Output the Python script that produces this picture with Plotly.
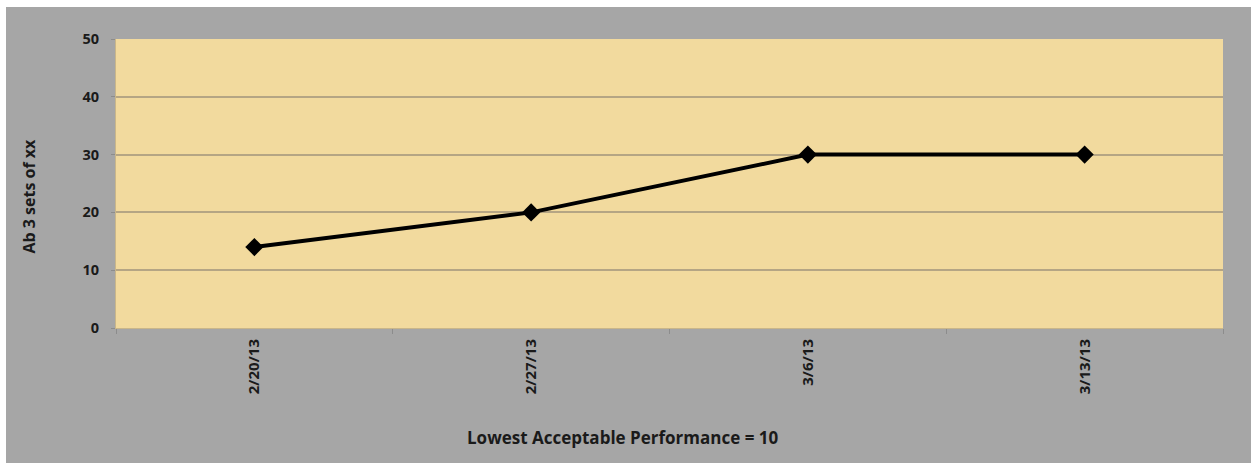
import plotly.graph_objects as go

dates = ["2/20/13", "2/27/13", "3/6/13", "3/13/13"]
values = [14, 20, 30, 30]
y_ticks = [0, 10, 20, 30, 40, 50]
x_title = "Lowest Acceptable Performance = 10"
y_title = "Ab 3 sets of xx"

W, H = 1251, 463
L, R, T, B = 116, 28, 39, 135
pw, ph = W - L - R, H - T - B

FONT = "Open Sans"
GREY = "#A6A6A6"
TAN = "#F2DA9E"
GRID = "#B5A584"


def px_x(p):
    return (p - L) / pw


def px_y(p):
    return (H - B - p) / ph


fig = go.Figure()
fig.add_trace(go.Scatter(
    x=dates, y=values, mode="lines+markers",
    line=dict(color="black", width=4),
    marker=dict(symbol="diamond", size=14, color="black"),
    showlegend=False, hoverinfo="x+y",
))

fig.update_layout(
    width=W, height=H,
    margin=dict(l=L, r=R, t=T, b=B, autoexpand=False),
    paper_bgcolor="white",
    plot_bgcolor="rgba(0,0,0,0)",
    font=dict(family=FONT, color="#1a1a1a"),
    xaxis=dict(
        type="category", tickson="boundaries", ticks="outside", ticklen=5,
        tickcolor="#8c8c8c", tickangle=-90, showgrid=False,
        tickfont=dict(size=15, family=FONT, weight="bold"),
        ticklabelstandoff=4,
        showline=True, linecolor="#C9B68A", linewidth=1,
        range=[-0.5, 3.5], automargin=False,
    ),
    yaxis=dict(
        range=[0, 50], tickvals=y_ticks, ticks="outside", ticklen=4,
        tickcolor="#8c8c8c", showgrid=True, gridcolor=GRID, gridwidth=1.5,
        zeroline=False, showline=True, linecolor="#C9B68A", linewidth=1,
        tickfont=dict(size=14.5, family=FONT, weight="bold"),
        ticklabelstandoff=9, automargin=False,
    ),
    shapes=[
        dict(type="rect", xref="paper", yref="paper", layer="below",
             x0=px_x(6), x1=px_x(W + 5), y0=px_y(H + 5), y1=px_y(7),
             fillcolor=GREY, line=dict(width=0)),
        dict(type="rect", xref="x domain", yref="y domain", layer="below",
             x0=0, x1=1, y0=0, y1=1, fillcolor=TAN, line=dict(width=0)),
    ],
    annotations=[
        dict(text="<b>" + x_title + "</b>", xref="paper", yref="paper",
             x=px_x(622), y=px_y(437), xanchor="center", yanchor="middle",
             showarrow=False, font=dict(size=17, family=FONT, color="#1a1a1a")),
        dict(text="<b>" + y_title + "</b>", xref="paper", yref="paper",
             x=px_x(28), y=px_y(196.5), xanchor="center", yanchor="middle",
             textangle=-90, showarrow=False,
             font=dict(size=16, family=FONT, color="#1a1a1a")),
    ],
)

fig.write_html("out.html")
